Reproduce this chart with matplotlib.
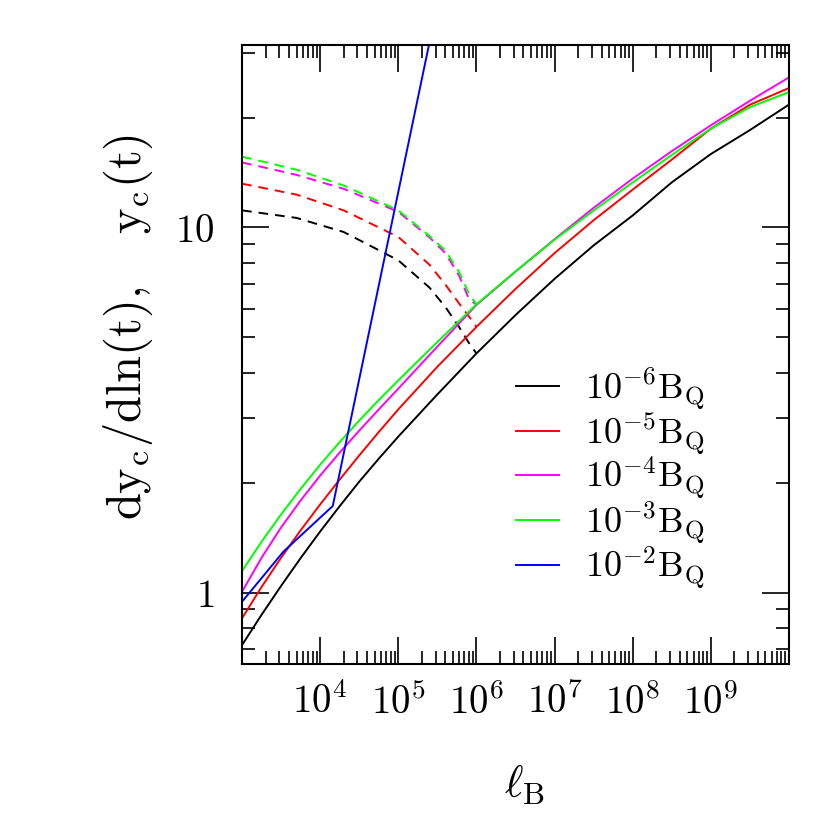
import matplotlib
matplotlib.use('Agg')
import matplotlib.pyplot as plt
from matplotlib.ticker import FixedLocator, FixedFormatter, LogLocator, NullFormatter

plt.rcParams['mathtext.fontset'] = 'cm'
plt.rcParams['font.family'] = ['DejaVu Serif']
plt.rcParams['lines.scale_dashes'] = False

# solid curves: y_c(t) against l_B
lB = [1e3, 1.778e3, 3.162e3, 5.623e3, 1e4, 1.778e4, 3.162e4, 5.623e4, 1e5, 3.162e5,
      1e6, 3.162e6, 1e7, 3.162e7, 1e8, 3.162e8, 1e9, 3.162e9, 1e10]
yc_m6 = [0.719, 0.870, 1.044, 1.244, 1.471, 1.726, 2.014, 2.328, 2.676, 3.491,
         4.52, 5.757, 7.235, 8.933, 10.79, 13.29, 15.89, 18.48, 21.70]
yc_m5 = [0.851, 1.037, 1.247, 1.482, 1.745, 2.041, 2.376, 2.754, 3.177, 4.157,
         5.345, 6.790, 8.510, 10.47, 12.70, 15.34, 18.65, 21.68, 24.09]
yc_m4 = [1.006, 1.247, 1.509, 1.789, 2.093, 2.420, 2.778, 3.176, 3.621, 4.721,
         6.138, 7.568, 9.290, 11.32, 13.61, 16.18, 19.05, 22.23, 25.76]
yc_m3 = [1.147, 1.379, 1.639, 1.925, 2.242, 2.585, 2.962, 3.370, 3.815, 4.860,
         6.160, 7.580, 9.261, 11.13, 13.29, 15.80, 18.65, 21.36, 23.48]

lB_blue = [1e3, 3.38e3, 1.45e4, 4e5]
yc_m2 = [0.945, 1.295, 1.728, 51.9]

# dashed curves: dy_c/dln(t)
lB_d = [1e3, 5e3, 2e4, 1e5, 2.5e5, 4e5, 6e5, 8e5, 1e6]
dy_m6 = [11.14, 10.62, 9.72, 8.13, 6.85, 6.06, 5.34, 4.83, 4.52]
dy_m5 = [13.18, 12.30, 11.14, 9.42, 7.91, 6.98, 6.19, 5.71, 5.35]
dy_m4 = [15.07, 13.93, 12.76, 11.04, 9.40, 8.51, 7.38, 6.38, 6.14]
dy_m3 = [15.63, 14.39, 13.03, 11.14, 9.48, 8.65, 7.55, 6.58, 6.16]

green = '#00ff00'

fig = plt.figure(figsize=(8.3, 8.3), dpi=100)
ax = fig.add_axes([0.2916, 0.2, 0.659, 0.7458])

lw = 1.4
dash = (7, 5)
ax.plot(lB_d, dy_m6, color='black', lw=lw, dashes=dash)
ax.plot(lB_d, dy_m5, color='red', lw=lw, dashes=dash)
ax.plot(lB_d, dy_m4, color='magenta', lw=lw, dashes=dash)
ax.plot(lB_d, dy_m3, color=green, lw=lw, dashes=dash)

h6, = ax.plot(lB, yc_m6, color='black', lw=lw, label=r'$10^{-6}\mathrm{B_Q}$')
h5, = ax.plot(lB, yc_m5, color='red', lw=lw, label=r'$10^{-5}\mathrm{B_Q}$')
h4, = ax.plot(lB, yc_m4, color='magenta', lw=lw, label=r'$10^{-4}\mathrm{B_Q}$')
h3, = ax.plot(lB, yc_m3, color=green, lw=lw, label=r'$10^{-3}\mathrm{B_Q}$')
h2, = ax.plot(lB_blue, yc_m2, color='blue', lw=lw, label=r'$10^{-2}\mathrm{B_Q}$')

ax.set_xscale('log')
ax.set_yscale('log')
ax.set_xlim(1e3, 1e10)
ax.set_ylim(0.638, 31.6)

ax.xaxis.set_major_locator(FixedLocator([1e4, 1e5, 1e6, 1e7, 1e8, 1e9]))
ax.xaxis.set_major_formatter(FixedFormatter([r'$10^{4}$', r'$10^{5}$', r'$10^{6}$',
                                             r'$10^{7}$', r'$10^{8}$', r'$10^{9}$']))
ax.xaxis.set_minor_locator(LogLocator(base=10, subs=range(2, 10), numticks=20))
ax.xaxis.set_minor_formatter(NullFormatter())
ax.yaxis.set_major_locator(FixedLocator([1, 10]))
ax.yaxis.set_major_formatter(FixedFormatter([r'$1$', r'$10$']))
ax.yaxis.set_minor_locator(LogLocator(base=10, subs=range(2, 10), numticks=20))
ax.yaxis.set_minor_formatter(NullFormatter())

ax.tick_params(which='both', direction='in', top=True, right=True, width=1.2)
ax.tick_params(which='major', length=19.5, labelsize=28)
ax.tick_params(axis='x', which='major', pad=14)
ax.tick_params(axis='y', which='major', pad=20)
ax.tick_params(which='minor', length=9.4)
for s in ax.spines.values():
    s.set_linewidth(1.5)

fig.text(128 / 830, 1 - 327 / 830, r'$\mathrm{dy_c/dln(t),\ \ \ y_c(t)}$',
         rotation=90, ha='center', va='center', fontsize=35)
fig.text(524 / 830, 1 - 785 / 830, r'$\ell_\mathrm{B}$', ha='center', va='center', fontsize=32)

ax.legend(handles=[h6, h5, h4, h3, h2], loc='upper left', bbox_to_anchor=(0.501, 0.483),
          frameon=False, fontsize=26, handlelength=1.2, handletextpad=0.7,
          labelspacing=-0.05, borderpad=0, borderaxespad=0)

fig.savefig('out.png', dpi=100)
